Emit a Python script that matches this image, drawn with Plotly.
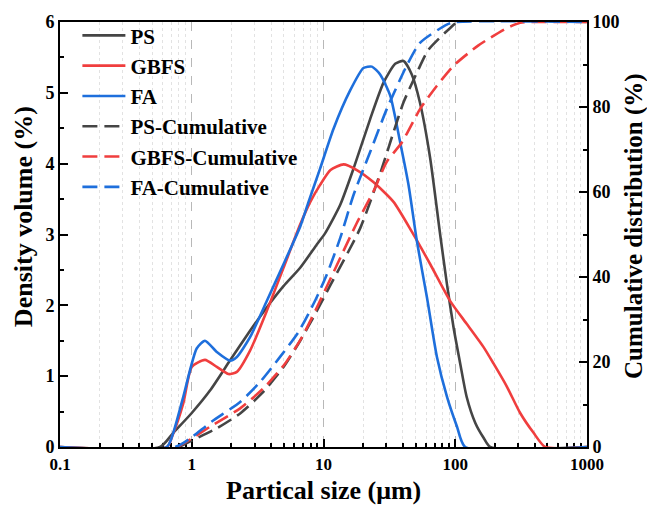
import plotly.graph_objects as go

# Particle size (µm) and density volume (%) for each powder
ps_size = [0.1, 0.574, 0.724, 1.0, 1.38, 1.95, 2.77, 3.71, 4.97, 6.65, 8.9, 10.3, 13.4, 16.9,
           22.6, 28.5, 35.0, 40.5, 46.8, 54.0, 64.6, 76.8, 86.5, 97.0, 109, 122, 142, 164, 184, 1000]
ps_density = [0, 0, 0.20, 0.48, 0.80, 1.22, 1.64, 1.97, 2.27, 2.53, 2.86, 3.02, 3.42, 3.93,
              4.63, 5.14, 5.41, 5.45, 5.26, 4.86, 4.07, 3.00, 2.30, 1.69, 1.18, 0.71, 0.34, 0.13, 0, 0]

gbfs_size = [0.1, 0.65, 0.71, 0.863, 1.0, 1.26, 1.55, 1.9, 2.2, 2.77, 3.71, 4.97, 6.65, 7.94,
             9.42, 11.3, 14.2, 17.9, 23.9, 34.0, 46.8, 64.6, 91.6, 122, 164, 195, 247, 311, 393, 482, 1000]
gbfs_density = [0, 0, 0.15, 0.62, 1.13, 1.23, 1.13, 1.03, 1.06, 1.36, 1.92, 2.53, 3.14, 3.46,
                3.70, 3.91, 3.99, 3.91, 3.74, 3.46, 3.04, 2.58, 2.06, 1.74, 1.41, 1.18, 0.85, 0.48, 0.20, 0, 0]

fa_size = [0.1, 0.645, 0.724, 0.863, 1.09, 1.26, 1.55, 1.95, 2.2, 2.77, 3.71, 4.97, 6.65, 7.7,
           9.42, 11.9, 15.9, 20.1, 23.3, 26.9, 32.1, 38.2, 44.2, 51.2, 61.0, 72.6, 86.5, 103, 119, 1000]
fa_density = [0, 0, 0.20, 0.71, 1.39, 1.50, 1.34, 1.22, 1.27, 1.55, 2.06, 2.58, 3.11, 3.46,
              3.93, 4.49, 5.03, 5.35, 5.37, 5.26, 4.96, 4.30, 3.70, 2.90, 2.11, 1.27, 0.71, 0.29, 0, 0]

# Cumulative distribution (%)
ps_cum_size = [0.8, 1.0, 1.55, 2.33, 3.4, 4.97, 6.65, 8.9, 11.2, 19.0, 27.7, 34.0, 40.5, 51.2,
               62.7, 91.6, 105, 1000]
ps_cum = [0, 1.5, 4.4, 7.9, 12.6, 18.8, 25.0, 32.0, 37.9, 51.5, 65.5, 74.1, 81.1, 88.1,
          93.5, 98.6, 100, 100]

gbfs_cum_size = [0.78, 1.0, 1.38, 2.33, 3.5, 5.1, 6.85, 8.9, 17.9, 23.9, 30.2, 39.4, 54.0, 72.6,
                 97.0, 150, 247, 311, 360, 1000]
gbfs_cum = [0, 2.0, 4.8, 9.1, 13.8, 19.6, 25.8, 32.8, 52.7, 60.1, 67.1, 71.7, 79.5, 85.0,
            89.7, 94.5, 98.6, 99.8, 100, 100]

fa_cum_size = [0.75, 0.815, 1.0, 1.42, 2.33, 3.3, 4.68, 6.44, 8.63, 10.6, 13.4, 16.9, 22.6, 30.2,
               42.8, 54.0, 86.3, 100, 1000]
fa_cum = [0, 0.5, 2.3, 6.0, 10.6, 15.3, 21.2, 27.0, 34.4, 40.6, 49.2, 59.3, 69.4, 79.5,
          89.7, 95.1, 99.4, 100, 100]

x_tick_vals = [0.1, 1, 10, 100, 1000]
x_tick_text = ["0.1", "1", "10", "100", "1000"]

GRAY = "#454545"
RED = "#F03E3E"
BLUE = "#1E6FDC"
FONT = "Liberation Serif"

fig = go.Figure()

solid = [("PS", ps_size, ps_density, GRAY),
         ("GBFS", gbfs_size, gbfs_density, RED),
         ("FA", fa_size, fa_density, BLUE)]
for name, xs, ys, col in solid:
    fig.add_trace(go.Scatter(x=xs, y=ys, name=name, mode="lines", legendgroup=name,
                             line=dict(color=col, width=2.6, shape="spline", smoothing=0.6)))

dashed = [("PS-Cumulative", ps_cum_size, ps_cum, GRAY),
          ("GBFS-Cumulative", gbfs_cum_size, gbfs_cum, RED),
          ("FA-Cumulative", fa_cum_size, fa_cum, BLUE)]
for name, xs, ys, col in dashed:
    fig.add_trace(go.Scatter(x=xs, y=ys, name=name, mode="lines", yaxis="y2", legendgroup=name,
                             line=dict(color=col, width=2.6, dash="15px,7px",
                                       shape="spline", smoothing=0.6)))

xtickfont = dict(family=FONT, size=17, color="black", weight="bold")
ytickfont = dict(family=FONT, size=18, color="black", weight="bold")
titlefont = dict(family=FONT, size=26, color="black", weight="bold")
rtitlefont = dict(family=FONT, size=25, color="black", weight="bold")

fig.update_layout(
    width=647, height=505,
    margin=dict(l=60, r=60, t=19, b=58),
    paper_bgcolor="white", plot_bgcolor="white",
    showlegend=True,
    legend=dict(x=0.033, y=1.016, xanchor="left", yanchor="top",
                bgcolor="rgba(0,0,0,0)", itemwidth=43, tracegroupgap=0,
                font=dict(family=FONT, size=21, color="black", weight="bold")),
    xaxis=dict(
        type="log", range=[-1, 3],
        tickvals=x_tick_vals, ticktext=x_tick_text,
        ticks="inside", ticklen=8, tickwidth=2, tickcolor="black", ticklabelstandoff=1,
        showline=True, linewidth=2, linecolor="black", mirror=True, layer="below traces",
        showgrid=True, gridcolor="#b8b8b8", griddash="dash", gridwidth=1,
        minor=dict(tickvals=[m * 10 ** e for e in range(-1, 3) for m in range(2, 10)],
                   ticks="inside", ticklen=4, tickwidth=1.5, tickcolor="black",
                   showgrid=True, gridcolor="#e2e2e2", griddash="dot", gridwidth=1),
        tickfont=xtickfont, zeroline=False,
    ),
    yaxis=dict(
        range=[0, 6], dtick=1,
        ticks="inside", ticklen=8, tickwidth=2, tickcolor="black",
        minor=dict(dtick=0.5, ticks="inside", ticklen=4, tickwidth=1.5, tickcolor="black"),
        showline=True, linewidth=2, linecolor="black",
        showgrid=False, zeroline=False, tickfont=ytickfont,
    ),
    yaxis2=dict(
        range=[0, 100], dtick=20, overlaying="y", side="right",
        ticks="inside", ticklen=8, tickwidth=2, tickcolor="black",
        minor=dict(dtick=10, ticks="inside", ticklen=4, tickwidth=1.5, tickcolor="black"),
        showline=True, linewidth=2, linecolor="black",
        showgrid=False, zeroline=False, tickfont=ytickfont,
    ),
    annotations=[
        dict(text="Partical size (μm)", xref="paper", yref="paper", x=0.5, y=-0.102,
             xanchor="center", yanchor="middle", showarrow=False, font=titlefont),
        dict(text="Density volume (%)", xref="paper", yref="paper", x=-0.0693, y=0.542,
             xanchor="center", yanchor="middle", textangle=-90, showarrow=False, font=titlefont),
        dict(text="Cumulative distribution (%)", xref="paper", yref="paper", x=1.088, y=0.521,
             xanchor="center", yanchor="middle", textangle=-90, showarrow=False, font=rtitlefont),
    ],
)

fig.write_html("out.html")
